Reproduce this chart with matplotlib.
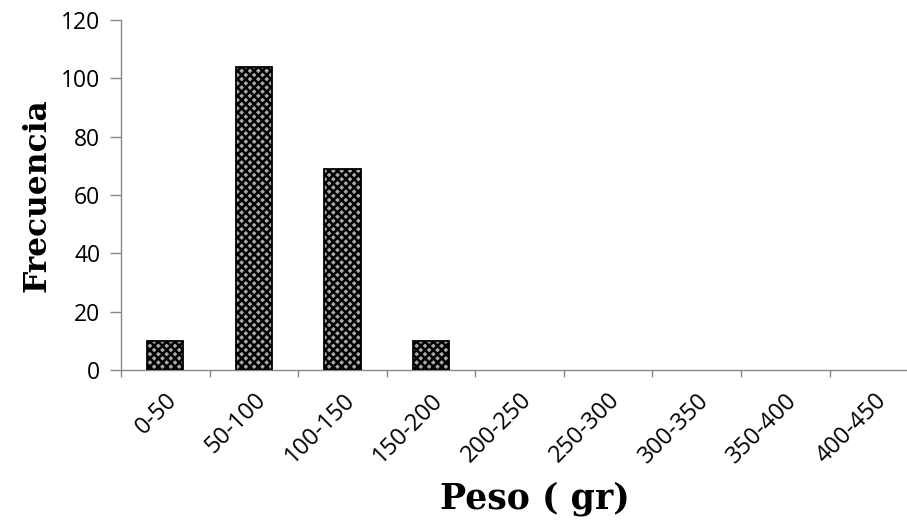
import numpy as np
import matplotlib.pyplot as plt

categorias = ["0-50", "50-100", "100-150", "150-200", "200-250",
              "250-300", "300-350", "350-400", "400-450"]
frecuencia = [10, 104, 69, 10, 0, 0, 0, 0, 0]
yticks = [0, 20, 40, 60, 80, 100, 120]

plt.rcParams['hatch.linewidth'] = 1.8
plt.rcParams['hatch.color'] = 'black'

fig = plt.figure(figsize=(9.07, 5.25), dpi=100)
ax = fig.add_axes([0.1334, 0.295, 0.879, 0.667])

x = np.arange(len(categorias))
# las barras con frecuencia 0 no se dibujan con borde
bordes = [1.3 if v > 0 else 0 for v in frecuencia]
ax.bar(x, frecuencia, width=0.41, facecolor='#a8a8a8', edgecolor='black',
       hatch='xxxx', linewidth=bordes, zorder=3)

ax.set_xlim(-0.5, len(categorias) - 0.5)
ax.set_ylim(0, 120)
ax.set_yticks(yticks)

ax.set_xticks(x)
ax.set_xticklabels(categorias, rotation=45, ha='right', rotation_mode='anchor',
                   fontfamily='Open Sans', fontsize=17)
ax.set_xticks(np.arange(len(categorias) + 1) - 0.5, minor=True)
ax.tick_params(axis='x', which='major', length=0, pad=13)
ax.tick_params(axis='x', which='minor', length=5, color='#888888', width=1)
ax.tick_params(axis='y', length=8, color='#888888', width=1, pad=7)
for lab in ax.get_yticklabels():
    lab.set_fontfamily('Open Sans')
    lab.set_fontsize(16.5)

for s in ['top', 'right']:
    ax.spines[s].set_visible(False)
for s in ['left', 'bottom']:
    ax.spines[s].set_color('#888888')
    ax.spines[s].set_linewidth(1)

ax.set_ylabel('Frecuencia', fontfamily='DejaVu Serif', fontweight='bold',
              fontsize=22.5, labelpad=6)
fig.text(0.59, 0.051, 'Peso ( gr)', fontfamily='DejaVu Serif', fontweight='bold',
         fontsize=25, ha='center', va='center')

fig.savefig('out.png', dpi=100)
